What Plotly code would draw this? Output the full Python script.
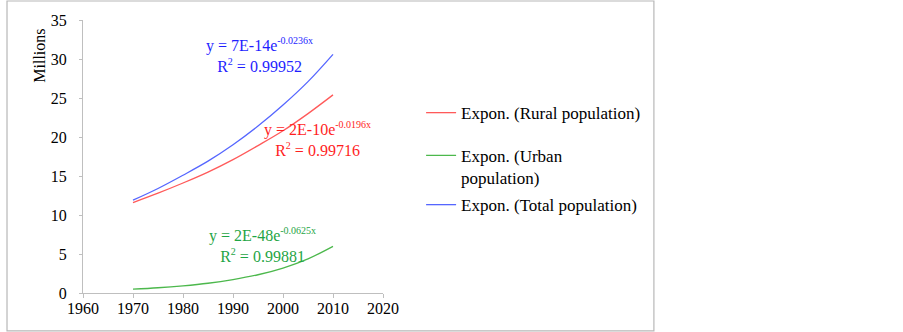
import plotly.graph_objects as go

years = [1970, 1975, 1980, 1985, 1990, 1995, 2000, 2005, 2010]
rural = [11.6, 12.8, 14.1, 15.5, 17.1, 18.9, 20.8, 23.0, 25.4]
urban = [0.49, 0.67, 0.92, 1.25, 1.72, 2.34, 3.20, 4.38, 5.98]
total = [11.9, 13.4, 15.1, 16.9, 19.0, 21.4, 24.1, 27.1, 30.6]

names = ["Expon. (Rural population)", "Expon. (Urban<br>population)", "Expon. (Total population)"]
colors = ["#ff5a5a", "#4cb84c", "#5566ff"]
text_colors = ["#ff1e1e", "#1fa545", "#1e1eff"]

eq_lines = [
    ("y = 2E-10e", "-0.0196x", "0.99716"),
    ("y = 2E-48e", "-0.0625x", "0.99881"),
    ("y = 7E-14e", "-0.0236x", "0.99952"),
]
# centre positions (data coords) of each two-line equation label
eq_pos = [(2006.8, 19.73), (1995.8, 6.21), (1995.3, 30.56)]

FONT = "Liberation Serif, Times New Roman, serif"

fig = go.Figure()
legend_ids = ["legend", "legend2", "legend3"]
for i, series in enumerate([rural, urban, total]):
    fig.add_trace(go.Scatter(
        x=years, y=series, mode="lines", name=names[i],
        line=dict(color=colors[i], width=1.3, shape="spline"),
        legend=legend_ids[i],
    ))

SUP = "<sup><span style='font-size:10px'>{}</span></sup>"
for i in range(3):
    main, exp, r2 = eq_lines[i]
    x, y = eq_pos[i]
    fig.add_annotation(
        x=x, y=y,
        text=main + SUP.format(exp) + "<br>R" + SUP.format("2") + " = " + r2,
        showarrow=False, align="center",
        font=dict(family=FONT, size=16, color=text_colors[i]),
        xanchor="center", yanchor="middle",
    )

fig.add_annotation(
    x=-0.148, y=0.974, xref="paper", yref="paper", text="Millions", textangle=-90,
    showarrow=False, xanchor="center", yanchor="top",
    font=dict(family=FONT, size=16, color="black"),
)

fig.add_shape(type="rect", xref="paper", yref="paper",
              x0=-0.2533, x1=1.903, y0=-0.139, y1=1.0696,
              line=dict(color="#b8b8b8", width=1.2), fillcolor="rgba(0,0,0,0)", layer="below")

leg_common = dict(x=1.127, xanchor="left", yanchor="middle",
                  font=dict(family=FONT, size=17, color="black"),
                  bgcolor="rgba(0,0,0,0)", valign="top", itemwidth=30)

fig.update_layout(
    width=903, height=332,
    margin=dict(l=83, r=520, t=20, b=39),
    plot_bgcolor="white", paper_bgcolor="white",
    font=dict(family=FONT, size=16, color="black"),
    showlegend=True,
    legend=dict(y=0.659, **leg_common),
    legend2=dict(y=0.462, **leg_common),
    legend3=dict(y=0.322, **leg_common),
    xaxis=dict(range=[1960, 2020], tickvals=[1960, 1970, 1980, 1990, 2000, 2010, 2020],
               showgrid=False, zeroline=False, showline=True, linecolor="#bfbfbf",
               ticks="outside", ticklen=4, tickcolor="#bfbfbf", ticklabelstandoff=-3,
               tickfont=dict(family=FONT, size=16, color="black")),
    yaxis=dict(range=[0, 35], tickvals=[0, 5, 10, 15, 20, 25, 30, 35],
               showgrid=False, zeroline=False, showline=True, linecolor="#bfbfbf",
               ticks="outside", ticklen=3, tickcolor="#bfbfbf", ticklabelstandoff=9,
               tickfont=dict(family=FONT, size=16, color="black")),
)

fig.write_html("out.html", config={"displayModeBar": False},
               post_script="document.body.style.margin='0';")
